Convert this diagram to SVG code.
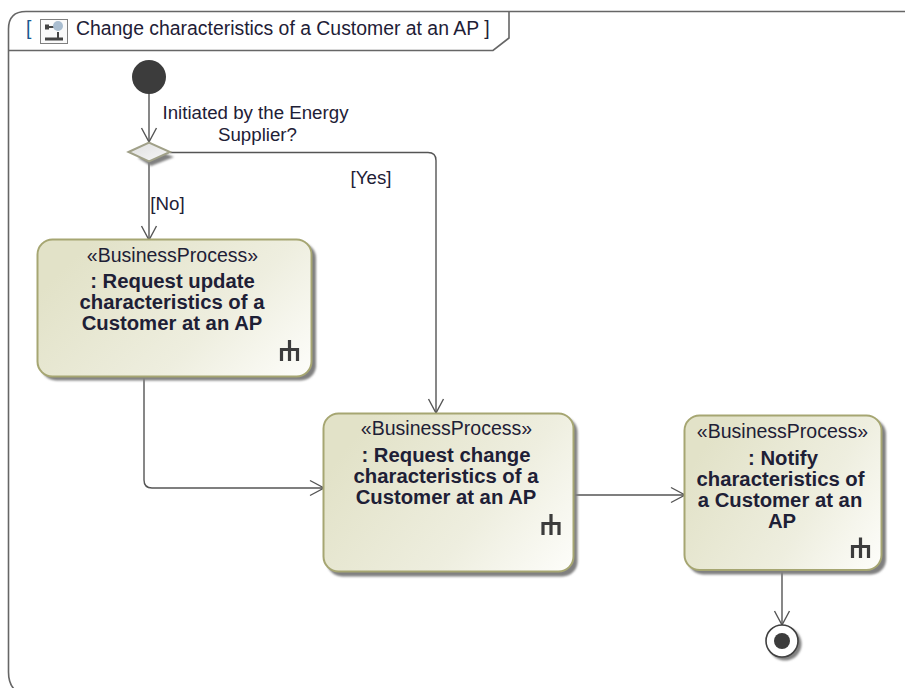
<svg xmlns="http://www.w3.org/2000/svg" width="905" height="688" viewBox="0 0 905 688">
<style>
text{font-family:"Liberation Sans",Arial,sans-serif;fill:#1e2036;text-anchor:middle}
.l{font-size:18.700px}
.t{font-size:19.400px;text-anchor:start}
.p{font-size:19.500px}
.b{font-size:20.300px;font-weight:bold}
.f{fill:none;stroke:#666;stroke-width:1.600}
.c{fill:none;stroke:#555;stroke-width:1.400}
.n{stroke:#a6a672;stroke-width:2;fill:url(#g)}
.s{fill:#808080;filter:url(#b)}
.h{fill:none;stroke:#3c3c3c;stroke-width:3.200}
</style>
<defs>
<linearGradient id="g" x1="0" y1="0.400" x2="1" y2="0.900"><stop offset="0" stop-color="#e2e2c8"/><stop offset="0.600" stop-color="#eeeedf"/><stop offset="1" stop-color="#fcfcf8"/></linearGradient>
<linearGradient id="d" x1="0" y1="0" x2="1" y2="1"><stop offset="0" stop-color="#dedede"/><stop offset="1" stop-color="#f8f8f8"/></linearGradient>
<filter id="b" x="-10%" y="-10%" width="120%" height="120%"><feGaussianBlur stdDeviation="1.100"/></filter>
<marker id="a" markerUnits="userSpaceOnUse" markerWidth="18" markerHeight="20" refX="15" refY="9" orient="auto"><path d="M1 1.500L15 9L1 16.500" fill="none" stroke="#555" stroke-width="1.400"/></marker>
</defs>
<rect width="905" height="688" fill="#fff"/>
<g id="frame">
<path class="f" d="M905 11.500H26Q8.500 11.500 8.500 29V672Q8.500 684 15 690"/>
<path class="f" d="M8.500 50.500H493L509 38V11.500"/>
<text class="t" x="26" y="35" style="fill:#1a5a90">[</text>
<g id="frame-icon"><rect x="40.500" y="19.500" width="27" height="24" fill="#fafafa" stroke="#808080"/><path d="M45 27h9M58 32v6" stroke="#444" stroke-width="2" fill="none"/><rect x="45" y="24.500" width="4" height="5" fill="#444"/><path d="M45 39h18" stroke="#444" stroke-width="3"/><ellipse cx="58" cy="26" rx="5" ry="5" fill="#a9bdd0"/></g>
<text class="t" x="76" y="35">Change characteristics of a Customer at an AP ]</text>
</g>
<g id="connectors">
<path class="c" marker-end="url(#a)" d="M149 92V142"/>
<path class="c" marker-end="url(#a)" d="M149 162V240"/>
<path class="c" marker-end="url(#a)" d="M170 152.500H428Q436 152.500 436 160.500V413"/>
<path class="c" marker-end="url(#a)" d="M144 377V480Q144 488 152 488H324"/>
<path class="c" marker-end="url(#a)" d="M574 495H685"/>
<path class="c" marker-end="url(#a)" d="M782 570V625"/>
<text class="l" x="255.500" y="119">Initiated by the Energy</text>
<text class="l" x="257.500" y="141">Supplier?</text>
<text class="l" x="371" y="184">[Yes]</text>
<text class="l" x="167.500" y="210">[No]</text>
</g>
<g id="initial"><circle cx="149" cy="77" r="17" fill="#3c3c3c"/></g>
<g id="decision"><path class="s" d="M138 158L155 150L174 157L151 166Z"/><path d="M128.500 152L149 142.500L170 152L149 161.500Z" fill="url(#d)" stroke="#a0a088" stroke-width="2"/></g>
<g id="node-update">
<rect class="s" x="41" y="243" width="275" height="137.500" rx="15"/>
<rect class="n" x="37.500" y="239.500" width="274" height="137" rx="15"/>
<text class="p" x="172.500" y="262">«BusinessProcess»</text>
<text class="b" x="172.500" y="288">: Request update</text>
<text class="b" x="172" y="309">characteristics of a</text>
<text class="b" x="172" y="330">Customer at an AP</text>
<path class="h" d="M289.500 361V340M281.500 361V349.500H297.500V361"/>
</g>
<g id="node-change">
<rect class="s" x="327" y="417" width="250.500" height="159.500" rx="15"/>
<rect class="n" x="323.500" y="413.500" width="250" height="158" rx="15"/>
<text class="p" x="446.500" y="435">«BusinessProcess»</text>
<text class="b" x="446" y="462">: Request change</text>
<text class="b" x="446" y="483">characteristics of a</text>
<text class="b" x="446" y="504">Customer at an AP</text>
<path class="h" d="M551 535V514M543 535V523.500H559V535"/>
</g>
<g id="node-notify">
<rect class="s" x="688" y="419" width="198" height="155.500" rx="15"/>
<rect class="n" x="684.500" y="415.500" width="197" height="154.500" rx="15"/>
<text class="p" x="782.500" y="438">«BusinessProcess»</text>
<text class="b" x="783" y="465">: Notify</text>
<text class="b" x="780.500" y="486">characteristics of</text>
<text class="b" x="780" y="507">a Customer at an</text>
<text class="b" x="782" y="528">AP</text>
<path class="h" d="M860.500 558V537.500M852.500 558V546.500H868.500V558"/>
</g>
<g id="final"><circle cx="785" cy="644" r="16.500" class="s"/><circle cx="782" cy="641" r="16" fill="#fff" stroke="#404040" stroke-width="1.600"/><circle cx="782" cy="641" r="8" fill="#3c3c3c"/></g>
</svg>
